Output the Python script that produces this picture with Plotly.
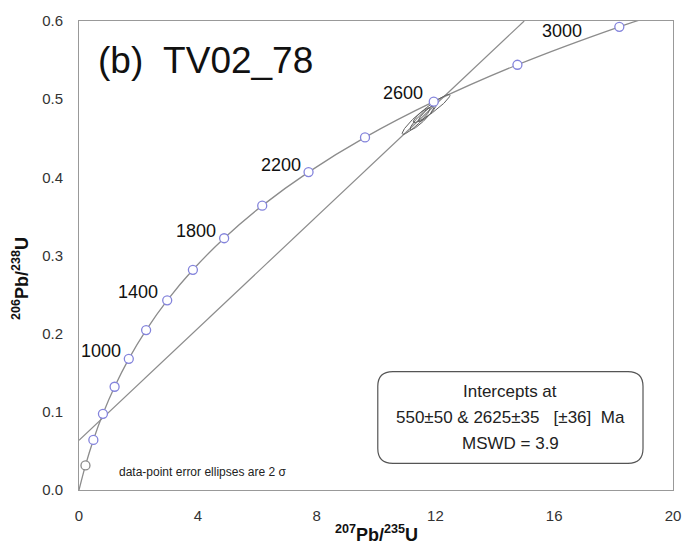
import numpy as np
import plotly.graph_objects as go

# ---- data ----
conc_age = [0, 200, 400, 600, 800, 1000, 1200, 1400, 1600, 1800, 2000, 2200, 2400, 2600, 2800, 3000, 3100]
conc_x = [0.0, 0.218, 0.483, 0.806, 1.199, 1.677, 2.260, 2.970, 3.835, 4.887, 6.169, 7.729, 9.630, 11.944, 14.762, 18.193, 20.18]
conc_y = [0.0, 0.0315, 0.0640, 0.0975, 0.1321, 0.1678, 0.2046, 0.2426, 0.2817, 0.3221, 0.3638, 0.4067, 0.4511, 0.4968, 0.5440, 0.5926, 0.617]

marker_ages = [200, 400, 600, 800, 1000, 1200, 1400, 1600, 1800, 2000, 2200, 2400, 2600, 2800, 3000]
label_ages = [1000, 1400, 1800, 2200, 2600, 3000]

discordia_x = [0.0, 14.99]
discordia_y = [0.0636, 0.6]

ell_cx = [11.35, 11.87, 11.55, 11.72]
ell_cy = [0.472, 0.488, 0.476, 0.482]
ell_sx = [0.47, 0.62, 0.40, 0.30]
ell_sy = [0.017, 0.018, 0.015, 0.011]
ell_rho = [0.93, 0.94, 0.92, 0.90]

x_ticks = [0, 4, 8, 12, 16, 20]
y_ticks = [0.0, 0.1, 0.2, 0.3, 0.4, 0.5, 0.6]

title_text = "(b)  TV02_78"
box_lines = ["Intercepts at", "550±50 & 2625±35   [±36]  Ma", "MSWD = 3.9"]
note_text = "data-point error ellipses are 2 σ"

# ---- style ----
FONT = "Liberation Sans, Arial, sans-serif"
CURVE = "#8c8c8c"
MARK = "#8484dc"
label_offsets = {1000: (-6, 8), 1400: (-7, 8), 1800: (-6, 7), 2200: (-6, 7), 2600: (-9, 9), 3000: (-35, -4)}

fig = go.Figure()

# concordia curve
fig.add_trace(go.Scatter(x=conc_x, y=conc_y, mode="lines",
                         line=dict(color=CURVE, width=1.3, shape="spline", smoothing=0.8),
                         hoverinfo="skip", showlegend=False))
# discordia
fig.add_trace(go.Scatter(x=discordia_x, y=discordia_y, mode="lines",
                         line=dict(color=CURVE, width=1.2), showlegend=False))

# ellipses
t = np.linspace(0, 2 * np.pi, 200)
for cx, cy, sx, sy, r in zip(ell_cx, ell_cy, ell_sx, ell_sy, ell_rho):
    ex = cx + sx * np.cos(t)
    ey = cy + sy * (r * np.cos(t) + np.sqrt(1 - r * r) * np.sin(t))
    fig.add_trace(go.Scatter(x=ex, y=ey, mode="lines", line=dict(color="#606060", width=1),
                             showlegend=False))

# markers
idx = [conc_age.index(a) for a in marker_ages]
mx = [conc_x[i] for i in idx]
my = [conc_y[i] for i in idx]
mcol = ["#8a8a8a" if a == 200 else MARK for a in marker_ages]
fig.add_trace(go.Scatter(x=mx, y=my, mode="markers",
                         marker=dict(symbol="circle", size=9, color="white",
                                     line=dict(color=mcol, width=1.3)),
                         showlegend=False))

annotations = []
for a in label_ages:
    i = conc_age.index(a)
    dx, dy = label_offsets[a]
    annotations.append(dict(x=conc_x[i], y=conc_y[i], xref="x", yref="y", text=str(a),
                            showarrow=False, xanchor="right", yanchor="middle",
                            xshift=dx, yshift=dy, font=dict(family=FONT, size=18, color="#111")))

# title
annotations.append(dict(x=0, y=1, xref="paper", yref="paper", text=title_text, showarrow=False,
                        xanchor="left", yanchor="middle", xshift=17, yshift=-39,
                        font=dict(family=FONT, size=37, color="#111")))
# note
annotations.append(dict(x=0, y=0, xref="paper", yref="paper", text=note_text, showarrow=False,
                        xanchor="left", yanchor="middle", xshift=38, yshift=18,
                        font=dict(family=FONT, size=12, color="#222")))
# box text
box_y = [0.2105, 0.1537, 0.0989]
for line, yy in zip(box_lines, box_y):
    annotations.append(dict(x=0.7256, y=yy, xref="paper", yref="paper", text=line, showarrow=False,
                            xanchor="center", yanchor="middle",
                            font=dict(family=FONT, size=17, color="#222")))
# axis titles
annotations.append(dict(x=0.5, y=0, xref="paper", yref="paper",
                        text="<b><sup>207</sup>Pb/<sup>235</sup>U</b>", showarrow=False,
                        xanchor="center", yanchor="middle", yshift=-43,
                        font=dict(family=FONT, size=18, color="#111")))
annotations.append(dict(x=0, y=0.45, xref="paper", yref="paper",
                        text="<b><sup>206</sup>Pb/<sup>238</sup>U</b>", showarrow=False,
                        textangle=-90, xanchor="center", yanchor="middle", xshift=-58,
                        font=dict(family=FONT, size=18, color="#111")))

# rounded box
x0, x1, y0, y1 = 0.503, 0.9495, 0.0568, 0.2526
rx, ry = 15 / 594, 15 / 475
path = (f"M {x0+rx},{y1} L {x1-rx},{y1} Q {x1},{y1} {x1},{y1-ry} L {x1},{y0+ry} "
        f"Q {x1},{y0} {x1-rx},{y0} L {x0+rx},{y0} Q {x0},{y0} {x0},{y0+ry} "
        f"L {x0},{y1-ry} Q {x0},{y1} {x0+rx},{y1} Z")
shapes = [dict(type="path", xref="paper", yref="paper", path=path,
               line=dict(color="#555", width=1.2), fillcolor="rgba(0,0,0,0)")]

fig.update_layout(
    width=698, height=549,
    margin=dict(l=79, r=25, t=15, b=59),
    paper_bgcolor="white", plot_bgcolor="white",
    annotations=annotations, shapes=shapes,
    font=dict(family=FONT),
    xaxis=dict(range=[0, 20], tickvals=x_ticks, ticktext=[str(v) for v in x_ticks],
               showline=True, mirror=True, linecolor="#999", linewidth=1,
               showgrid=False, zeroline=False, ticks="", ticklabelstandoff=12,
               tickfont=dict(family=FONT, size=15, color="#333")),
    yaxis=dict(range=[0, 0.6], tickvals=y_ticks, ticktext=[f"{v:.1f}" for v in y_ticks],
               showline=True, mirror=True, linecolor="#999", linewidth=1,
               showgrid=False, zeroline=False, ticks="", ticklabelstandoff=12,
               tickfont=dict(family=FONT, size=15, color="#333")),
)

fig.write_html("out.html")
